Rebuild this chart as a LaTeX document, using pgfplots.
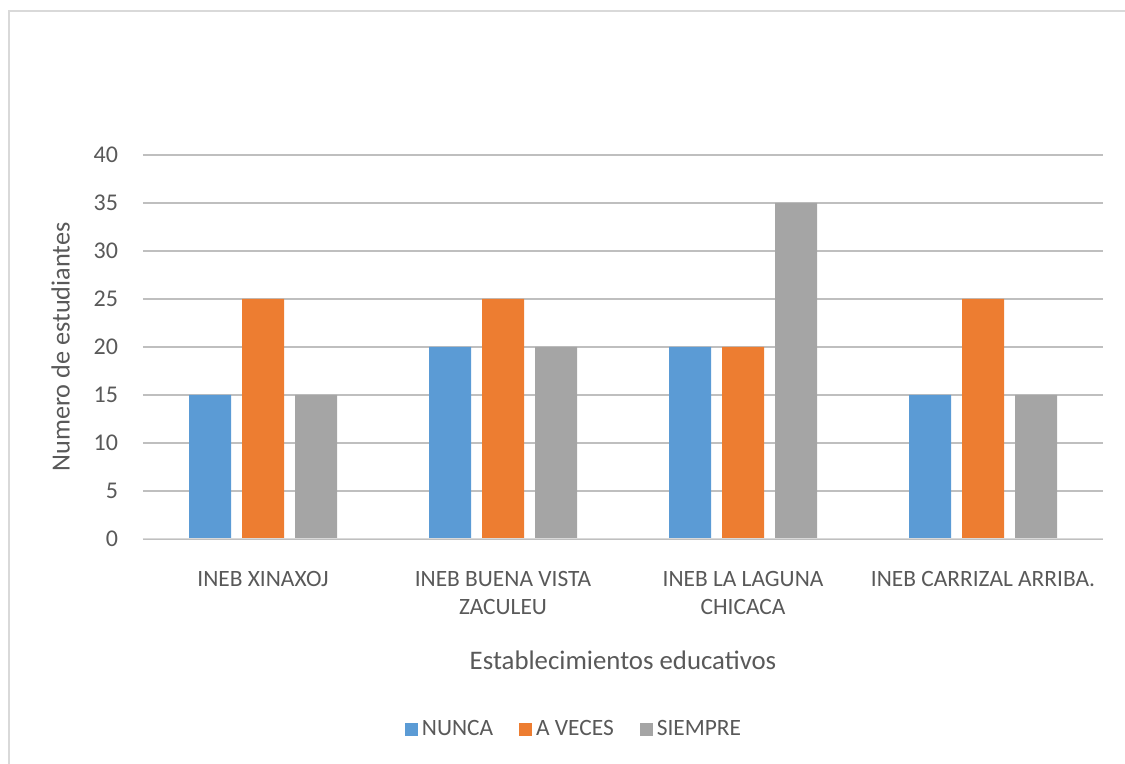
\documentclass[border=0pt]{standalone}
\usepackage{pgfplots}
\pgfplotsset{compat=1.18}
\usepackage{fontspec}
\setmainfont{Carlito}
\definecolor{cblue}{HTML}{5B9BD5}
\definecolor{corange}{HTML}{ED7D31}
\definecolor{cgray}{HTML}{A5A5A5}
\definecolor{grid}{HTML}{D9D9D9}
\definecolor{txt}{HTML}{595959}
\begin{document}
\begin{tikzpicture}
\useasboundingbox (0pt,0pt) rectangle (562.5pt,382pt);
\draw[grid, line width=1.2pt] (4.5pt,0pt) -- (4.5pt,376.5pt) -- (562.5pt,376.5pt);
\begin{axis}[
  at={(71.5pt,112.5pt)}, anchor=south west,
  scale only axis, width=480pt, height=192pt,
  ybar=5.5pt, bar width=0.175,
  xmin=-0.5, xmax=3.5, ymin=0, ymax=40,
  ytick={0,5,...,40},
  xtick=data,
  xticklabels={INEB XINAXOJ,{INEB BUENA VISTA\\ZACULEU},{INEB LA LAGUNA\\CHICACA},INEB CARRIZAL ARRIBA.},
  xticklabel style={align=center, font=\fontsize{11.7}{14}\selectfont, text=txt, yshift=-12.5pt},
  yticklabel style={font=\fontsize{12}{12}\selectfont, text=txt, xshift=-9pt},
  /pgf/number format/assume math mode=true,
  major tick length=0pt,
  axis line style={draw=none},
  ymajorgrids, xmajorgrids=false, grid style={grid, line width=0.6pt},
  xlabel={Establecimientos educativos},
  ylabel={Numero de estudiantes},
  xlabel style={font=\fontsize{13.4}{15}\selectfont, text=txt, yshift=-11.5pt},
  ylabel style={font=\fontsize{13.1}{15}\selectfont, text=txt, yshift=5pt},
  legend style={at={(rel axis cs:0.45,-0.495)}, anchor=center, draw=none, legend columns=3,
    font=\fontsize{11.7}{13}\selectfont, text=txt,
    /tikz/every even column/.append style={column sep=11pt}},
  legend image code/.code={\fill[#1] (0pt,-3.25pt) rectangle (6.5pt,3.25pt);},
]
\addplot[fill=cblue, draw=none] coordinates {(0,15) (1,20) (2,20) (3,15)};
\addplot[fill=corange, draw=none] coordinates {(0,25) (1,25) (2,20) (3,25)};
\addplot[fill=cgray, draw=none] coordinates {(0,15) (1,20) (2,35) (3,15)};
\draw[grid, line width=0.8pt] (rel axis cs:0,0) -- (rel axis cs:1,0);
\legend{NUNCA,A VECES,SIEMPRE}
\end{axis}
\end{tikzpicture}
\end{document}
